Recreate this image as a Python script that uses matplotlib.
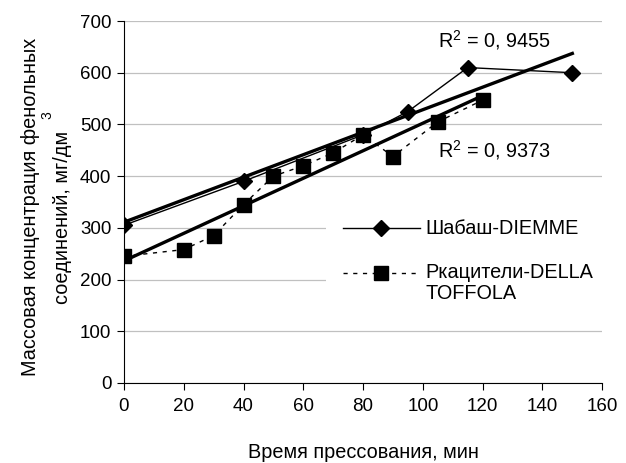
import numpy as np
import matplotlib
matplotlib.use("Agg")
import matplotlib.pyplot as plt
from matplotlib.lines import Line2D
from matplotlib.patches import Rectangle

plt.rcParams['font.family'] = ['Liberation Sans', 'DejaVu Sans']
plt.rcParams['mathtext.fontset'] = 'custom'
plt.rcParams['mathtext.rm'] = 'Liberation Sans'

# Pressing time, min and phenolic concentration, mg/dm3
shabash_x = [0, 40, 80, 95, 115, 150]
shabash_y = [305, 390, 480, 525, 610, 600]
rkats_x = [0, 20, 30, 40, 50, 60, 70, 80, 90, 105, 120]
rkats_y = [245, 258, 285, 345, 400, 420, 445, 480, 438, 505, 547]

labels = ["Шабаш-DIEMME", "Ркацители-DELLA", "TOFFOLA"]
r2_texts = ["R$^2$ = 0, 9455", "R$^2$ = 0, 9373"]
xticks = list(range(0, 161, 20))
yticks = list(range(0, 701, 100))

fig = plt.figure(figsize=(6.26, 4.63), dpi=100)
ax = fig.add_axes([0.198, 0.1728, 0.764, 0.7818])

fs = 13.5
lfs = 14.3

# linear trends
for xs, ys in [(shabash_x, shabash_y), (rkats_x, rkats_y)]:
    k, b = np.polyfit(xs, ys, 1)
    xx = np.array([min(xs), max(xs)])
    ax.plot(xx, k * xx + b, color='black', lw=2.4, zorder=3)

diamond = dict(color='black', lw=1.0, marker='D', ms=8, mfc='black', mec='black')
square = dict(color='black', lw=1.0, ls=(0, (3, 4)), marker='s', ms=9.5,
              mfc='black', mec='black')
ax.plot(shabash_x, shabash_y, zorder=4, **diamond)
ax.plot(rkats_x, rkats_y, zorder=4, **square)

ax.text(105, 663, r2_texts[0], fontsize=lfs, va='center', ha='left')
ax.text(105, 450, r2_texts[1], fontsize=lfs, va='center', ha='left')

ax.set_xlim(0, 160)
ax.set_ylim(0, 700)
ax.set_xticks(xticks)
ax.set_yticks(yticks)
ax.tick_params(labelsize=fs, direction='out', length=5, width=0.8, colors='black')
ax.tick_params(axis='x', pad=6)
ax.tick_params(axis='y', pad=4)
ax.yaxis.grid(True, color='#c0c0c0', lw=0.9)
ax.set_axisbelow(True)
for s in ['top', 'right']:
    ax.spines[s].set_visible(False)
for s in ['left', 'bottom']:
    ax.spines[s].set_color('black')
    ax.spines[s].set_linewidth(0.8)
ax.spines['bottom'].set_zorder(5)

# legend block (axes fraction coordinates)
tr = ax.transAxes
ax.add_patch(Rectangle((0.4226, 0.21), 0.6, 0.315, transform=tr, facecolor='white',
                       edgecolor='none', zorder=2, clip_on=False))
for y, style in [(0.428, diamond), (0.304, square)]:
    ax.add_line(Line2D([0.458, 0.619], [y, y], transform=tr, zorder=4,
                       **{k: v for k, v in style.items() if k not in ('marker',)}))
    ax.add_line(Line2D([0.538], [y], transform=tr, zorder=5, ls='none',
                       marker=style['marker'], ms=style['ms'], color='black'))
ax.text(0.630, 0.428, labels[0], transform=tr, fontsize=lfs, va='center', ha='left')
ax.text(0.630, 0.304, labels[1], transform=tr, fontsize=lfs, va='center', ha='left')
ax.text(0.630, 0.246, labels[2], transform=tr, fontsize=lfs, va='center', ha='left')

ax.set_xlabel("Время прессования, мин", fontsize=lfs, labelpad=20)
fig.text(0.048, 0.553, "Массовая концентрация фенольных", rotation=90,
         fontsize=lfs, ha='center', va='center')
fig.text(0.1, 0.53, "соединений, мг/дм", rotation=90,
         fontsize=lfs, ha='center', va='center')
fig.text(0.076, 0.752, "3", rotation=90, fontsize=10, ha='center', va='center')

fig.savefig("out.png", dpi=100)
